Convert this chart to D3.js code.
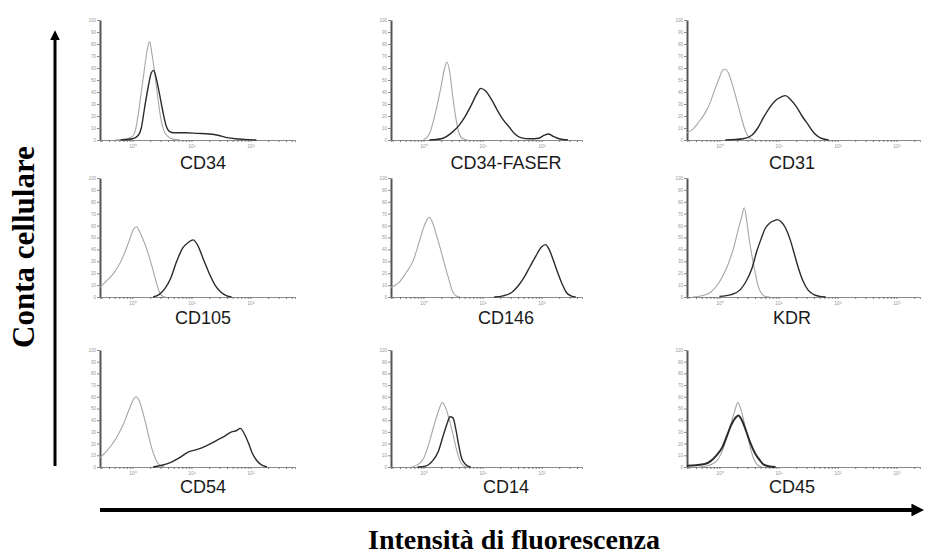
<!DOCTYPE html>
<html>
<head>
<meta charset="utf-8">
<script src="https://cdn.jsdelivr.net/npm/d3@7"></script>
<style>
  body { margin: 0; background: #fff; }
  svg { display: block; }
</style>
</head>
<body>
<svg width="927" height="555"></svg>
<script>
// markers, in reading order (3 x 3)
const markers = ["CD34", "CD34-FASER", "CD31", "CD105", "CD146", "KDR", "CD54", "CD14", "CD45"];

// histograms: [log10 intensity (decades), % of max count]
// gray = isotype control, black = stained
const cd34Iso = [[-0.3,0],[-0.1,1],[0,3],[0.05,8],[0.1,22],[0.15,40],[0.2,58],[0.25,75],[0.29,82],[0.33,72],[0.38,55],[0.43,35],[0.48,18],[0.53,8],[0.6,3],[0.7,0.5],[0.8,0]];
const cd34Pos = [[-0.2,0],[0,1],[0.1,4],[0.15,10],[0.2,25],[0.27,45],[0.32,56],[0.36,58],[0.4,52],[0.46,38],[0.51,25],[0.57,12],[0.63,7],[0.7,6],[0.9,6],[1.1,5.5],[1.3,5],[1.45,4],[1.6,2],[1.75,1],[1.9,0.5],[2.1,0]];

const faserIso = [[0,0],[0.1,5],[0.2,22],[0.3,45],[0.36,60],[0.4,65],[0.45,55],[0.5,35],[0.55,18],[0.6,6],[0.67,1],[0.75,0]];
const faserPos = [[0.1,0],[0.3,1],[0.5,7],[0.6,12],[0.7,19],[0.8,28],[0.9,38],[0.97,43],[1.05,41],[1.15,34],[1.25,25],[1.35,17],[1.45,11],[1.55,5],[1.65,2],[1.8,1],[1.95,1.5],[2.05,4],[2.12,5],[2.2,3],[2.3,1],[2.45,0]];

const cd31Iso = [[-0.55,6],[-0.45,9],[-0.35,15],[-0.25,22],[-0.15,32],[-0.08,42],[0,52],[0.05,58],[0.1,59],[0.15,56],[0.22,46],[0.3,32],[0.37,19],[0.43,9],[0.5,2],[0.58,0]];
const cd31Pos = [[0.1,0],[0.4,1],[0.55,4],[0.65,10],[0.75,19],[0.85,27],[0.95,33],[1.05,36],[1.12,37],[1.2,34],[1.3,28],[1.4,20],[1.5,13],[1.6,6],[1.7,2],[1.85,0]];

const cd105Iso = [[-0.55,8],[-0.45,13],[-0.35,18],[-0.25,25],[-0.15,35],[-0.05,48],[0.02,57],[0.07,59],[0.12,55],[0.2,46],[0.27,36],[0.34,24],[0.4,13],[0.45,5],[0.5,1],[0.56,0]];
const cd105Pos = [[0.35,0],[0.45,2],[0.55,7],[0.65,16],[0.75,30],[0.85,41],[0.95,46],[1.03,48],[1.1,44],[1.2,32],[1.3,20],[1.4,10],[1.5,4],[1.6,1],[1.68,0]];

const cd146Iso = [[-0.55,8],[-0.4,13],[-0.3,20],[-0.17,31],[-0.08,45],[0,58],[0.06,65],[0.1,67],[0.15,63],[0.22,52],[0.29,40],[0.36,27],[0.43,15],[0.49,5],[0.55,1],[0.62,0]];
const cd146Pos = [[1.2,0],[1.35,1],[1.5,4],[1.6,9],[1.7,16],[1.8,25],[1.9,34],[2,42],[2.07,44],[2.13,40],[2.2,31],[2.28,20],[2.35,11],[2.42,4],[2.5,1],[2.58,0]];

const kdrIso = [[-0.45,0],[-0.3,1],[-0.15,4],[-0.05,9],[0.05,17],[0.15,28],[0.25,43],[0.32,57],[0.38,68],[0.42,75],[0.46,65],[0.5,50],[0.55,35],[0.6,22],[0.65,10],[0.7,4],[0.78,0.5],[0.85,0]];
const kdrPos = [[0,0.5],[0.2,2],[0.35,6],[0.45,13],[0.55,24],[0.63,38],[0.7,48],[0.78,58],[0.85,62],[0.92,64],[0.98,65],[1.05,63],[1.12,58],[1.2,48],[1.27,36],[1.34,24],[1.42,13],[1.5,6],[1.6,2],[1.7,0.5],[1.8,0]];

const cd54Iso = [[-0.55,8],[-0.45,13],[-0.35,19],[-0.25,27],[-0.15,37],[-0.05,50],[0.02,58],[0.06,60],[0.12,56],[0.18,46],[0.24,34],[0.3,21],[0.36,11],[0.42,4],[0.48,1],[0.55,0]];
const cd54Pos = [[0.35,0],[0.5,1.5],[0.65,4],[0.8,8],[0.95,13],[1.1,15],[1.25,18],[1.4,22],[1.55,26],[1.68,30],[1.76,31],[1.83,33],[1.9,28],[1.97,20],[2.03,12],[2.1,6],[2.18,2],[2.28,0]];

const cd14Iso = [[-0.2,0],[-0.1,2],[0,7],[0.08,18],[0.17,34],[0.25,47],[0.32,55],[0.38,50],[0.44,40],[0.5,28],[0.56,15],[0.62,5],[0.68,1],[0.75,0]];
const cd14Pos = [[-0.1,0],[0.05,1],[0.15,5],[0.25,13],[0.33,26],[0.4,37],[0.45,43],[0.5,42],[0.55,32],[0.6,18],[0.65,7],[0.72,2],[0.8,0]];

const cd45Iso = [[-0.35,0],[-0.2,1],[-0.05,5],[0.05,14],[0.13,26],[0.2,38],[0.26,48],[0.31,55],[0.36,50],[0.42,38],[0.48,26],[0.53,15],[0.58,7],[0.64,2],[0.72,0]];
const cd45Pos = [[-0.55,1],[-0.4,1.5],[-0.25,2.5],[-0.15,5],[-0.05,10],[0.05,17],[0.13,27],[0.2,36],[0.27,42],[0.32,44],[0.38,40],[0.45,31],[0.52,21],[0.6,12],[0.68,6],[0.75,2],[0.85,0.5],[0.95,0]];

const isoSeries = [cd34Iso, faserIso, cd31Iso, cd105Iso, cd146Iso, kdrIso, cd54Iso, cd14Iso, cd45Iso];
const posSeries = [cd34Pos, faserPos, cd31Pos, cd105Pos, cd146Pos, kdrPos, cd54Pos, cd14Pos, cd45Pos];

const yTicks = d3.range(0, 101, 10);
const decadeLabels = ["10\u2070", "10\u00b9", "10\u00b2", "10\u00b3", "10\u2074"];

// layout
const colX = [[100, 295], [391, 582], [687, 920]];
const rowY = [[20, 140], [178, 297], [350, 467]];
const labelX = [203, 506, 792];
const labelY = [169, 324, 493];
const decadePx = 59;
const xStart = -0.55;

const svg = d3.select("svg");

markers.forEach((name, i) => {
  const c = i % 3, r = Math.floor(i / 3);
  const [x0, x1] = colX[c];
  const [yTop, yBot] = rowY[r];
  const xEnd = xStart + (x1 - x0) / decadePx;

  const x = d3.scaleLinear().domain([xStart, xEnd]).range([x0, x1]);
  const y = d3.scaleLinear().domain([0, 100]).range([yBot, yTop]);

  // log ticks: decades plus 2..9 in between
  const ticks = [];
  for (let d = Math.floor(xStart); d <= xEnd; d++) {
    for (let k = 1; k < 10; k++) {
      const v = d + Math.log10(k);
      if (v >= xStart && v <= xEnd) ticks.push(v);
    }
  }

  const g = svg.append("g");

  const xAxis = g.append("g")
    .attr("transform", `translate(0,${yBot})`)
    .call(d3.axisBottom(x)
      .tickValues(ticks)
      .tickSizeOuter(0)
      .tickSize(2)
      .tickFormat(d => Math.abs(d - Math.round(d)) < 1e-9 ? decadeLabels[Math.round(d)] : ""));
  xAxis.select(".domain").attr("stroke", "#8a8a8a");
  xAxis.selectAll(".tick line").attr("stroke", "#777");
  xAxis.selectAll(".tick text").attr("font-size", 5).attr("fill", "#999").attr("dy", "0.5em");

  const yAxis = g.append("g")
    .attr("transform", `translate(${x0},0)`)
    .call(d3.axisLeft(y).tickValues(yTicks).tickSize(3).tickSizeOuter(0).tickFormat(d => d));
  yAxis.select(".domain").attr("stroke", "#555").attr("stroke-width", 2);
  yAxis.selectAll(".tick line").attr("stroke", "#888");
  yAxis.selectAll(".tick text").attr("font-size", 4.5).attr("fill", "#999").attr("x", -4);

  const line = d3.line()
    .x(d => x(d[0]))
    .y(d => y(d[1]))
    .curve(d3.curveMonotoneX);

  g.append("path")
    .datum(isoSeries[i])
    .attr("fill", "none")
    .attr("stroke", "#a6a6a6")
    .attr("stroke-width", 1.1)
    .attr("d", line);

  g.append("path")
    .datum(posSeries[i])
    .attr("fill", "none")
    .attr("stroke", "#2b2b2b")
    .attr("stroke-width", name === "CD45" ? 2 : 1.4)
    .attr("d", line);

  svg.append("text")
    .attr("x", labelX[c])
    .attr("y", labelY[r])
    .attr("text-anchor", "middle")
    .attr("font-family", "Liberation Sans, Arial, sans-serif")
    .attr("font-size", 18)
    .attr("fill", "#1a1a1a")
    .text(name);
});

// big axis arrows
const defs = svg.append("defs");
defs.append("marker")
  .attr("id", "head")
  .attr("viewBox", "0 0 10 10")
  .attr("refX", 2).attr("refY", 5)
  .attr("markerWidth", 3.2).attr("markerHeight", 3.2)
  .attr("orient", "auto")
  .append("path").attr("d", "M0,0L10,5L0,10Z").attr("fill", "#000");

svg.append("line")
  .attr("x1", 100).attr("y1", 510).attr("x2", 914).attr("y2", 510)
  .attr("stroke", "#000").attr("stroke-width", 4)
  .attr("marker-end", "url(#head)");

svg.append("line")
  .attr("x1", 55).attr("y1", 466).attr("x2", 55).attr("y2", 38)
  .attr("stroke", "#000").attr("stroke-width", 3)
  .attr("marker-end", "url(#head)");

svg.append("text")
  .attr("x", 514).attr("y", 549)
  .attr("text-anchor", "middle")
  .attr("font-family", "Liberation Serif, Times New Roman, serif")
  .attr("font-weight", "bold")
  .attr("font-size", 28)
  .text("Intensità di fluorescenza");

svg.append("text")
  .attr("transform", "translate(34,247) rotate(-90)")
  .attr("text-anchor", "middle")
  .attr("font-family", "Liberation Serif, Times New Roman, serif")
  .attr("font-weight", "bold")
  .attr("font-size", 31)
  .text("Conta cellulare");
</script>
</body>
</html>
